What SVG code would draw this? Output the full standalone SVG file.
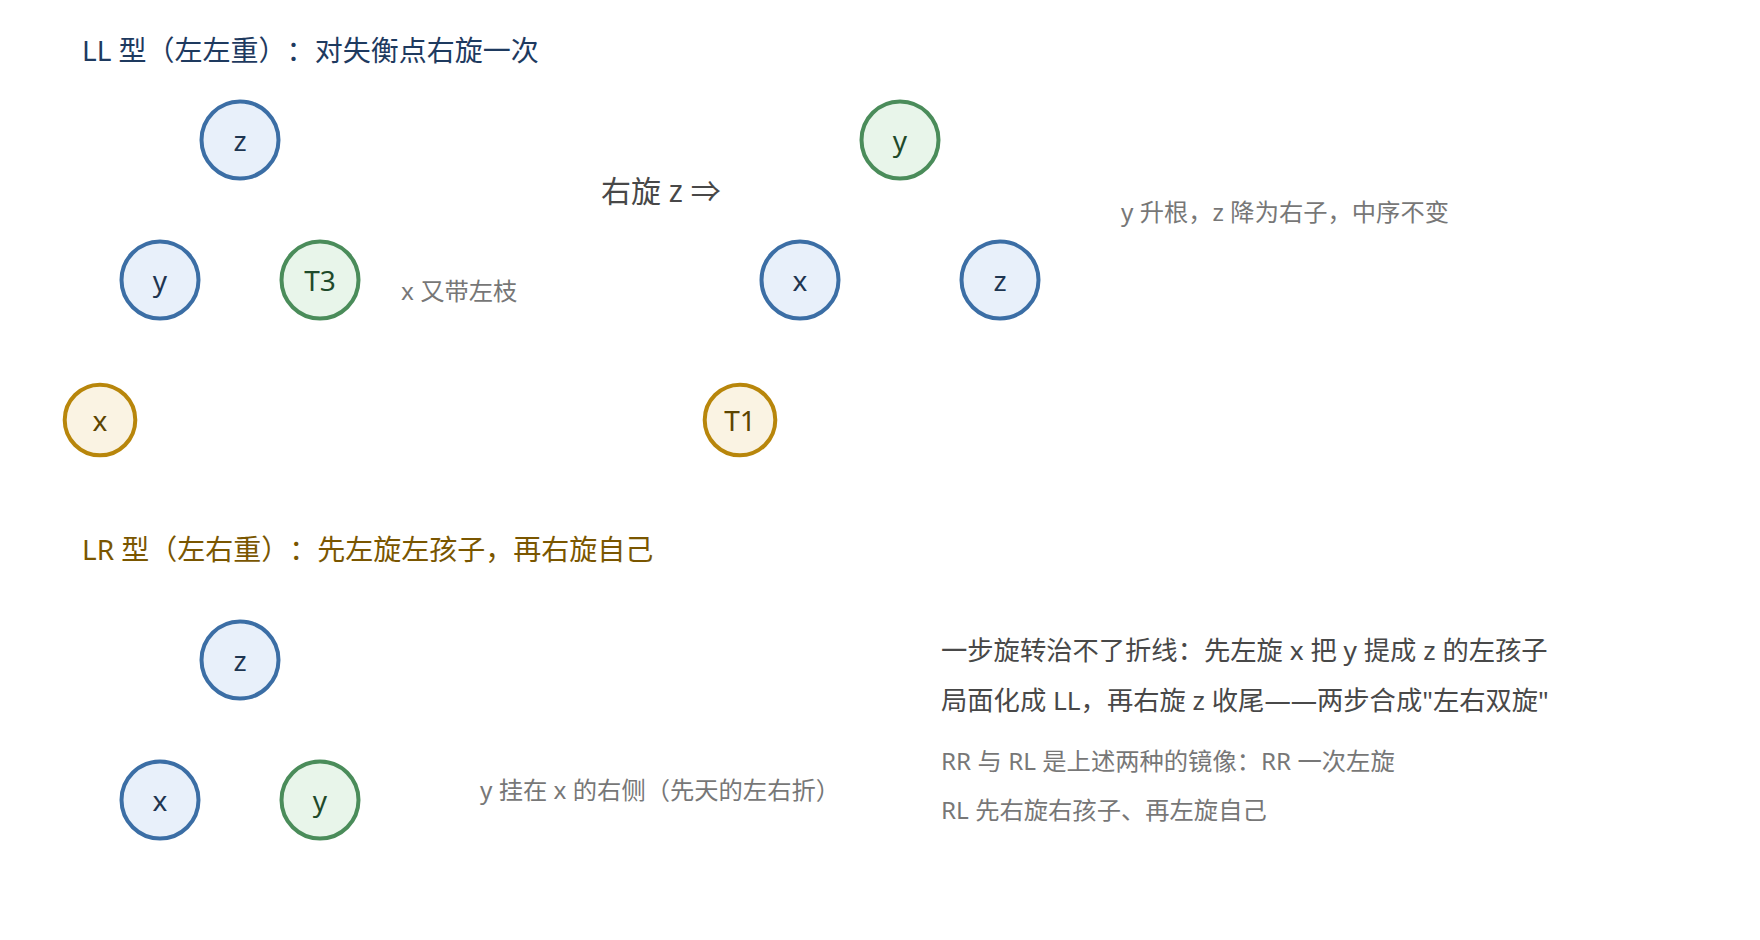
<svg xmlns="http://www.w3.org/2000/svg" width="1760" height="940" viewBox="0 0 1760 940">
<style>
text { font-family: "Noto Sans", "Noto Sans CJK SC", sans-serif; text-spacing-trim: space-all; }
.title-ll { font-size: 28px; fill: #1e3a5f; }
.title-lr { font-size: 28px; fill: #7a5600; }
.note { font-size: 24.3px; fill: #777777; }
.body { font-size: 26.3px; fill: #484848; }
.arrow { font-size: 30px; fill: #484848; }
.lbl { font-size: 28px; text-anchor: middle; }
.blue circle { fill: #e8f0fa; stroke: #3b6ea5; stroke-width: 4; }
.blue text { fill: #1e3550; }
.green circle { fill: #e8f5ea; stroke: #4a8c5a; stroke-width: 4; }
.green text { fill: #1e4a2a; }
.gold circle { fill: #faf3e3; stroke: #b8860b; stroke-width: 4; }
.gold text { fill: #5c4400; }
</style>
<rect width="1760" height="940" fill="#ffffff"/>

<text class="title-ll" x="82" y="61">LL 型（左左重）：对失衡点右旋一次</text>

<g id="ll-z" class="blue"><circle cx="240" cy="140" r="38.5"/><text class="lbl" x="240" y="151">z</text></g>
<g id="ll-y" class="blue"><circle cx="160" cy="280" r="38.5"/><text class="lbl" x="160" y="291">y</text></g>
<g id="ll-t3" class="green"><circle cx="320" cy="280" r="38.5"/><text class="lbl" x="320" y="291">T3</text></g>
<g id="ll-x" class="gold"><circle cx="100" cy="420" r="35.3"/><text class="lbl" x="100" y="431">x</text></g>
<text class="note" x="401" y="300">x 又带左枝</text>

<text class="arrow" x="601" y="202">右旋 z ⇒</text>

<g id="rot-y" class="green"><circle cx="900" cy="140" r="38.5"/><text class="lbl" x="900" y="151">y</text></g>
<g id="rot-x" class="blue"><circle cx="800" cy="280" r="38.5"/><text class="lbl" x="800" y="291">x</text></g>
<g id="rot-z" class="blue"><circle cx="1000" cy="280" r="38.5"/><text class="lbl" x="1000" y="291">z</text></g>
<g id="rot-t1" class="gold"><circle cx="740" cy="420" r="35.3"/><text class="lbl" x="740" y="431">T1</text></g>
<text class="note" x="1121" y="221">y 升根，z 降为右子，中序不变</text>

<text class="title-lr" x="82" y="560">LR 型（左右重）：先左旋左孩子，再右旋自己</text>

<g id="lr-z" class="blue"><circle cx="240" cy="660" r="38.5"/><text class="lbl" x="240" y="671">z</text></g>
<g id="lr-x" class="blue"><circle cx="160" cy="800" r="38.5"/><text class="lbl" x="160" y="811">x</text></g>
<g id="lr-y" class="green"><circle cx="320" cy="800" r="38.5"/><text class="lbl" x="320" y="811">y</text></g>
<text class="note" x="480" y="799">y 挂在 x 的右侧（先天的左右折）</text>

<g id="connectors"></g>

<text class="body" x="941" y="660">一步旋转治不了折线：先左旋 x 把 y 提成 z 的左孩子</text>
<text class="body" x="941" y="710">局面化成 LL，再右旋 z 收尾——两步合成"左右双旋"</text>
<text class="note" x="941" y="770">RR 与 RL 是上述两种的镜像：RR 一次左旋</text>
<text class="note" x="941" y="819">RL 先右旋右孩子、再左旋自己</text>
</svg>
